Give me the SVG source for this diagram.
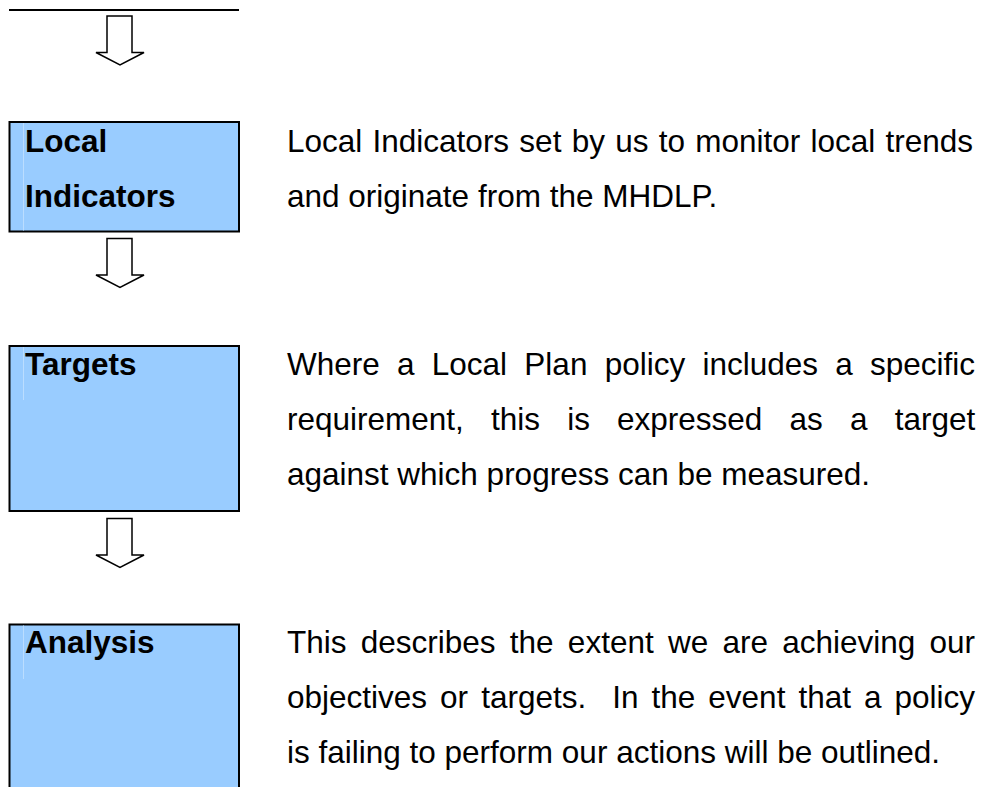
<svg xmlns="http://www.w3.org/2000/svg" width="984" height="787" viewBox="0 0 984 787">
  <style>
    .box { fill: #99CCFF; stroke: #000; stroke-width: 2; }
    .edge { stroke: #BBDDFF; stroke-width: 1; }
    .lbl { font-family: "Liberation Sans", Arial, sans-serif; font-size: 31.5px; font-weight: bold; fill: #000; }
    .desc { font-family: "Liberation Sans", Arial, sans-serif; font-size: 31.5px; fill: #000; }
    .arrow { fill: #fff; stroke: #000; stroke-width: 1.5; stroke-linejoin: miter; }
  </style>
  <rect width="984" height="787" fill="#fff"/>

  <g id="previous-box-edge">
    <line x1="9" y1="10" x2="239" y2="10" stroke="#000" stroke-width="2"/>
  </g>

  <g id="node-local-indicators">
    <rect class="box" x="9.5" y="122" width="229.5" height="109.5"/>
    <line class="edge" x1="23.5" y1="123" x2="23.5" y2="230.5"/>
    <text class="lbl" x="25" y="152">Local</text>
    <text class="lbl" x="25" y="207">Indicators</text>
    <text class="desc" x="287" y="152" word-spacing="1.5">Local Indicators set by us to monitor local trends</text>
    <text class="desc" x="287" y="207">and originate from the MHDLP.</text>
  </g>

  <g id="node-targets">
    <rect class="box" x="9.5" y="346" width="229.5" height="165"/>
    <line class="edge" x1="23.5" y1="347" x2="23.5" y2="400"/>
    <text class="lbl" x="25" y="375">Targets</text>
    <text class="desc" x="287" y="375" word-spacing="8.5">Where a Local Plan policy includes a specific</text>
    <text class="desc" x="287" y="430" word-spacing="18.4">requirement, this is expressed as a target</text>
    <text class="desc" x="287" y="485">against which progress can be measured.</text>
  </g>

  <g id="node-analysis">
    <rect class="box" x="9.5" y="624.5" width="229.5" height="200"/>
    <line class="edge" x1="23.5" y1="625.5" x2="23.5" y2="679"/>
    <text class="lbl" x="25" y="653">Analysis</text>
    <text class="desc" x="287" y="653" word-spacing="5.5">This describes the extent we are achieving our</text>
    <text class="desc" x="287" y="708" word-spacing="4.27" xml:space="preserve">objectives or targets.  In the event that a policy</text>
    <text class="desc" x="287" y="763">is failing to perform our actions will be outlined.</text>
  </g>

  <g id="connectors">
    <path class="arrow" d="M107,16 L132,16 L132,52.5 L144,52.5 L120,65 L96,52.5 L107,52.5 Z"/>
    <path class="arrow" d="M107,238.5 L132,238.5 L132,275 L144,275 L120,287.5 L96,275 L107,275 Z"/>
    <path class="arrow" d="M107,518.5 L132,518.5 L132,555 L144,555 L120,567.5 L96,555 L107,555 Z"/>
  </g>
</svg>
